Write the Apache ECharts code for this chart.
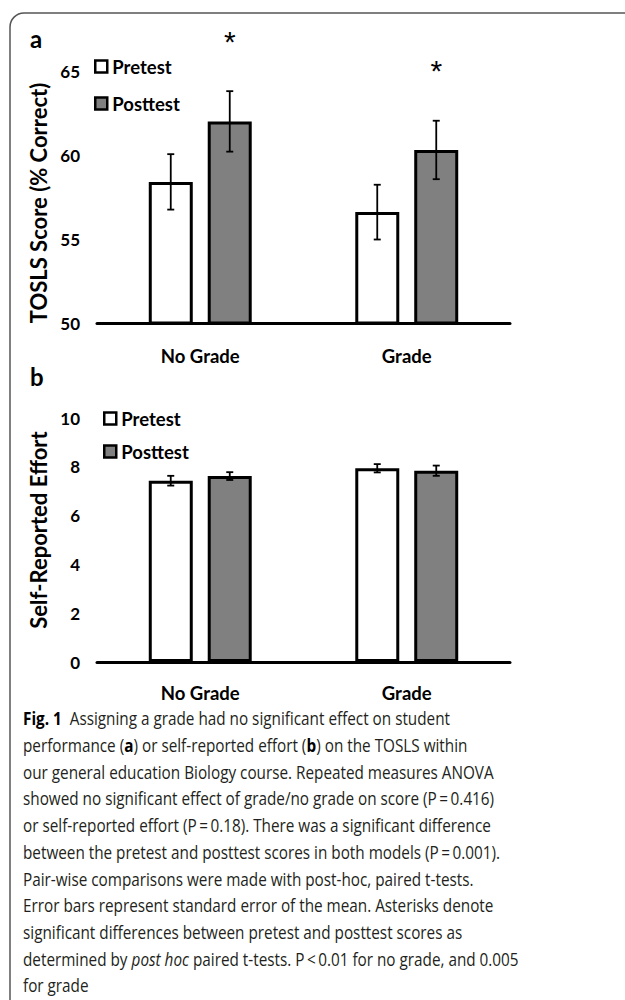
<!DOCTYPE html>
<html><head><meta charset="utf-8">
<script src="https://cdn.jsdelivr.net/npm/echarts@6/dist/echarts.min.js"></script>
<style>html,body{margin:0;padding:0;background:#fff}#c{width:625px;height:1000px}</style>
</head><body><div id="c"></div>
<script>
// ---- data ----
const categories = ['No Grade', 'Grade'];
const seriesNames = ['Pretest', 'Posttest'];
const scorePre = [58.4, 56.6];
const scorePost = [62.0, 60.3];
const scorePreErr = [1.65, 1.63];
const scorePostErr = [1.8, 1.74];
const scorePostSig = [1, 1];          // asterisks (significant pre vs post)
const effortPre = [7.43, 7.94];
const effortPost = [7.62, 7.84];
const effortPreErr = [0.2, 0.17];
const effortPostErr = [0.16, 0.21];
const scoreTicks = [50, 55, 60, 65];
const effortTicks = [0, 2, 4, 6, 8, 10];
const captionLines = [
  '{b|Fig. 1}  Assigning a grade had no significant effect on student',
  'performance ({b|a}) or self-reported effort ({b|b}) on the TOSLS within',
  'our general education Biology course. Repeated measures ANOVA',
  'showed no significant effect of grade/no grade on score (P\u2009=\u20090.416)',
  'or self-reported effort (P\u2009=\u20090.18). There was a significant difference',
  'between the pretest and posttest scores in both models (P\u2009=\u20090.001).',
  'Pair-wise comparisons were made with post-hoc, paired t-tests.',
  'Error bars represent standard error of the mean. Asterisks denote',
  'significant differences between pretest and posttest scores as',
  'determined by {i|post hoc} paired t-tests. P\u2009<\u20090.01 for no grade, and 0.005',
  'for grade'
];

// ---- styles ----
const FONT = 'Lato, "Open Sans", sans-serif';
const CAP_FONT = '"Open Sans", "Noto Sans", sans-serif';
const CAP_SIZE = 18;
const BAR_W = 44, BAR_GAP = '34%', HALF_SPACING = 29.5;
const preStyle = {color: '#ffffff', borderColor: '#000', borderWidth: 3};
const postStyle = {color: '#808080', borderColor: '#000', borderWidth: 3};

// scale caption horizontally to the reference measure
const cv = document.createElement('canvas').getContext('2d');
cv.font = CAP_SIZE + 'px ' + CAP_FONT;
const capScale = 471 / cv.measureText(captionLines[2]).width;

function errRender(offset, capHalf, lw) {
  return function (params, api) {
    const x = api.value(0), m = api.value(1), e = api.value(2), s = api.value(3);
    const top = api.coord([x, m + e]);
    const bot = api.coord([x, m - e]);
    const cx = top[0] + offset;
    const st = {stroke: '#000', lineWidth: lw};
    const ch = [
      {type: 'line', shape: {x1: cx, y1: top[1], x2: cx, y2: bot[1]}, style: st},
      {type: 'line', shape: {x1: cx - capHalf, y1: top[1], x2: cx + capHalf, y2: top[1]}, style: st},
      {type: 'line', shape: {x1: cx - capHalf, y1: bot[1], x2: cx + capHalf, y2: bot[1]}, style: st}
    ];
    if (s) {
      ch.push({type: 'text', x: cx, y: top[1] - 50,
        style: {text: '*', fontSize: 30, fontFamily: 'Liberation Sans, sans-serif', fill: '#000',
          align: 'center', verticalAlign: 'middle'}});
    }
    return {type: 'group', children: ch};
  };
}
function errData(vals, errs, sig) {
  return vals.map((v, i) => [i, v, errs[i], sig ? sig[i] : 0]);
}

const chart = echarts.init(document.getElementById('c'), null, {renderer: 'svg'});
const xAxisBase = (grid, margin) => ({
  type: 'category', gridIndex: grid, data: categories,
  axisLine: {lineStyle: {color: '#000', width: 3}},
  axisTick: {show: false},
  axisLabel: {color: '#000', fontFamily: FONT, fontWeight: 'bold', fontSize: 18.5, margin: margin}
});
const legendBase = (left, top, gap) => ({
  data: seriesNames.map(n => ({name: n, icon: 'rect'})), orient: 'vertical', left: left, top: top, padding: 0,
  itemWidth: 12, itemHeight: 12, itemGap: gap,
  itemStyle: {borderWidth: 2.5, borderColor: '#000'},
  textStyle: {color: '#000', fontFamily: FONT, fontWeight: 'bold', fontSize: 18.5, lineHeight: 18}
});
const yName = (pad) => ({color: '#000', fontFamily: FONT, fontWeight: 'bold', fontSize: 22, padding: pad});

chart.setOption({
  animation: false,
  backgroundColor: '#fff',
  grid: [
    {left: 97, width: 413, top: 71, height: 252},
    {left: 97, width: 413, top: 418, height: 244}
  ],
  xAxis: [xAxisBase(0, 23), xAxisBase(1, 21)],
  yAxis: [
    {type: 'value', gridIndex: 0, min: scoreTicks[0], max: scoreTicks[scoreTicks.length - 1], interval: 5,
      axisLine: {show: false}, axisTick: {show: false}, splitLine: {show: false},
      axisLabel: {color: '#000', fontFamily: FONT, fontSize: 17, fontWeight: 'bold', margin: 17},
      name: 'TOSLS Score (% Correct)', nameLocation: 'middle', nameGap: 46, nameRotate: 90,
      nameTextStyle: yName([0, 12, 0, 0])},
    {type: 'value', gridIndex: 1, min: effortTicks[0], max: effortTicks[effortTicks.length - 1], interval: 2,
      axisLine: {show: false}, axisTick: {show: false}, splitLine: {show: false},
      axisLabel: {color: '#000', fontFamily: FONT, fontSize: 17, fontWeight: 'bold', margin: 17},
      name: 'Self-Reported Effort', nameLocation: 'middle', nameGap: 47, nameRotate: 90,
      nameTextStyle: yName([0, 0, 0, 20])}
  ],
  legend: [legendBase(94, 57, 18), legendBase(103, 409, 14)],
  series: [
    {type: 'bar', name: seriesNames[0], xAxisIndex: 0, yAxisIndex: 0, data: scorePre,
      barWidth: BAR_W, barGap: BAR_GAP, itemStyle: preStyle},
    {type: 'bar', name: seriesNames[1], xAxisIndex: 0, yAxisIndex: 0, data: scorePost,
      barWidth: BAR_W, barGap: BAR_GAP, itemStyle: postStyle},
    {type: 'bar', name: seriesNames[0], xAxisIndex: 1, yAxisIndex: 1, data: effortPre,
      barWidth: BAR_W, barGap: BAR_GAP, itemStyle: preStyle},
    {type: 'bar', name: seriesNames[1], xAxisIndex: 1, yAxisIndex: 1, data: effortPost,
      barWidth: BAR_W, barGap: BAR_GAP, itemStyle: postStyle},
    {type: 'custom', xAxisIndex: 0, yAxisIndex: 0, z: 10, clip: false, silent: true,
      renderItem: errRender(-HALF_SPACING, 3.5, 1.8), data: errData(scorePre, scorePreErr)},
    {type: 'custom', xAxisIndex: 0, yAxisIndex: 0, z: 10, clip: false, silent: true,
      renderItem: errRender(HALF_SPACING, 3.5, 1.8), data: errData(scorePost, scorePostErr, scorePostSig)},
    {type: 'custom', xAxisIndex: 1, yAxisIndex: 1, z: 10, clip: false, silent: true,
      renderItem: errRender(-HALF_SPACING, 3.5, 1.8), data: errData(effortPre, effortPreErr)},
    {type: 'custom', xAxisIndex: 1, yAxisIndex: 1, z: 10, clip: false, silent: true,
      renderItem: errRender(HALF_SPACING, 3.5, 1.8), data: errData(effortPost, effortPostErr)}
  ],
  graphic: [
    {type: 'rect', silent: true, z: -1, shape: {x: 10, y: 13, width: 800, height: 1200, r: [14, 0, 0, 0]},
      style: {fill: 'none', stroke: '#555', lineWidth: 1.5}},
    {type: 'text', x: 30, y: 38, style: {text: 'a', fontFamily: FONT, fontWeight: 'bold', fontSize: 24,
      fill: '#000', verticalAlign: 'middle'}},
    {type: 'text', x: 30, y: 376, style: {text: 'b', fontFamily: FONT, fontWeight: 'bold', fontSize: 24,
      fill: '#000', verticalAlign: 'middle'}},
    {type: 'text', x: 23, y: 705, scaleX: capScale, scaleY: 1,
      style: {text: captionLines.join('\n'), fontFamily: CAP_FONT, fontSize: CAP_SIZE, lineHeight: 26.7,
        fill: '#231f20', verticalAlign: 'top', align: 'left',
        rich: {
          b: {fontFamily: CAP_FONT, fontSize: CAP_SIZE, lineHeight: 26.7, fontWeight: 'bold', fill: '#000'},
          i: {fontFamily: CAP_FONT, fontSize: CAP_SIZE, lineHeight: 26.7, fontStyle: 'italic', fill: '#231f20'}
        }}}
  ]
});
</script></body></html>
